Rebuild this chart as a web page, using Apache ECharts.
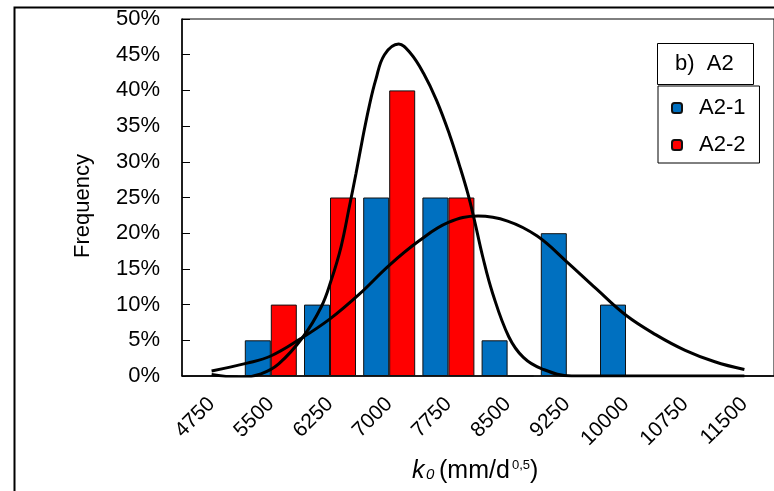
<!DOCTYPE html>
<html>
<head>
<meta charset="utf-8">
<script src="https://cdn.jsdelivr.net/npm/echarts@6/dist/echarts.min.js"></script>
<style>
html,body{margin:0;padding:0;background:#fff;}
#main{width:774px;height:491px;}
</style>
</head>
<body>
<div id="main"></div>
<script>
// class centres of k0 (mm/d^0,5)
var kClasses = ['4750','5500','6250','7000','7750','8500','9250','10000','10750','11500'];
// frequency in %
var freqA21 = [0, 5, 10, 25, 25, 5, 20, 10, 0, 0];
var freqA22 = [0, 10, 25, 40, 25, 0, 0, 0, 0, 0];
// fitted curves: [k0, %]
var fitA21 = [[4750,0.7],[5200,1.8],[5500,2.8],[5875,5.2],[6250,8.0],[6625,11.5],[7000,15.5],
	[7375,18.9],[7750,21.5],[8125,22.4],[8500,21.7],[8875,19.6],[9250,16.0],[9625,12.2],
	[10000,8.5],[10375,5.8],[10750,3.6],[11125,2.0],[11500,0.9]];
var fitA22 = [[4750,0.2],[5125,-0.2],[5375,0.3],[5600,1.7],[5910,5.5],[6140,9.7],[6265,13.4],
	[6390,18.1],[6495,23.7],[6580,28.4],[6660,33.1],[6745,37.7],[6830,41.5],[6940,45.0],
	[7120,46.5],[7270,45.2],[7435,42.4],[7600,38.6],[7765,33.8],[7890,29.5],
	[7995,25.6],[8080,21.8],[8185,16.7],[8310,11.6],[8515,5.5],[8700,2.6],[8935,1.0],
	[9310,0.0],[10000,0.0],[11500,0.0]];

window.onload = function(){
	var font = 'Liberation Sans, Arial, sans-serif';
	var myChart = echarts.init(document.getElementById('main'));
	var option = {
		backgroundColor: '#fff',
		animation: false,
		textStyle: {fontFamily: font, color: '#000'},
		title: {
			text: 'b)  A2',
			left: 657, top: 43,
			padding: [10, 20, 10, 18],
			borderColor: '#000', borderWidth: 1,
			textStyle: {fontSize: 22, fontWeight: 'normal', color: '#000', fontFamily: font, lineHeight: 22}
		},
		legend: {
			data: ['A2-1', 'A2-2'],
			orient: 'vertical',
			left: 658, top: 86,
			padding: [11, 14, 7, 13],
			itemGap: 15,
			itemWidth: 10, itemHeight: 10,
			borderColor: '#000', borderWidth: 1,
			textStyle: {fontSize: 22, color: '#000', fontFamily: font, lineHeight: 22, padding: [0, 0, 0, 12]}
		},
		grid: {
			left: 182, top: 19, width: 600, height: 357,
			show: true, borderColor: '#000', borderWidth: 1
		},
		xAxis: [{
			type: 'category',
			data: kClasses,
			boundaryGap: true,
			axisLine: {lineStyle: {color: '#000', width: 1.5}},
			axisTick: {inside: true, length: 6, lineStyle: {color: '#000'}},
			axisLabel: {rotate: 45, fontSize: 21, margin: 25, color: '#000', fontFamily: font, interval: 0},
			splitLine: {show: false}
		}, {
			type: 'value',
			min: 4375, max: 11875,
			show: false
		}],
		yAxis: {
			type: 'value',
			min: 0, max: 50, interval: 5,
			axisLine: {show: true, lineStyle: {color: '#000', width: 1.5}},
			axisTick: {show: true, inside: true, length: 8, lineStyle: {color: '#000'}},
			axisLabel: {formatter: '{value}%', fontSize: 22, margin: 22, color: '#000', fontFamily: font},
			splitLine: {show: false}
		},
		graphic: [
			{type: 'rect', left: 12, top: 5, shape: {width: 800, height: 600},
				style: {fill: 'none', stroke: '#000', lineWidth: 2}, z: 100},
			{type: 'text', x: 83, y: 206, rotation: Math.PI / 2,
				style: {text: 'Frequency', font: '22px ' + font, fill: '#000',
					align: 'center', verticalAlign: 'middle'}},
			// axis title k0 (mm/d^0,5), pieces placed one by one
			{type: 'text', x: 412, y: 471,
				style: {text: 'k', font: 'italic 25px ' + font, fill: '#000', verticalAlign: 'middle'}},
			{type: 'text', x: 426, y: 475,
				style: {text: '0', font: 'italic 15px ' + font, fill: '#000', verticalAlign: 'middle'}},
			{type: 'text', x: 439, y: 471,
				style: {text: '(mm/d', font: '25px ' + font, fill: '#000', verticalAlign: 'middle'}},
			{type: 'text', x: 512, y: 465,
				style: {text: '0,5', font: '13px ' + font, fill: '#000', verticalAlign: 'middle'}},
			{type: 'text', x: 530, y: 471,
				style: {text: ')', font: '25px ' + font, fill: '#000', verticalAlign: 'middle'}}
		],
		series: [{
			name: 'A2-1',
			type: 'bar',
			data: freqA21,
			barWidth: 26,
			barGap: 0,
			itemStyle: {color: '#0070C0', borderColor: '#111', borderWidth: 1}
		}, {
			name: 'A2-2',
			type: 'bar',
			data: freqA22,
			barWidth: 26,
			barGap: 0,
			itemStyle: {color: '#FF0000', borderColor: '#111', borderWidth: 1}
		}, {
			name: 'fit A2-1',
			type: 'line',
			xAxisIndex: 1,
			data: fitA21,
			smooth: 0.4,
			showSymbol: false,
			lineStyle: {color: '#000', width: 3},
			z: 5
		}, {
			name: 'fit A2-2',
			type: 'line',
			xAxisIndex: 1,
			data: fitA22,
			smooth: 0.4,
			showSymbol: false,
			lineStyle: {color: '#000', width: 3},
			z: 5
		}]
	};
	myChart.setOption(option);
};
</script>
</body>
</html>
